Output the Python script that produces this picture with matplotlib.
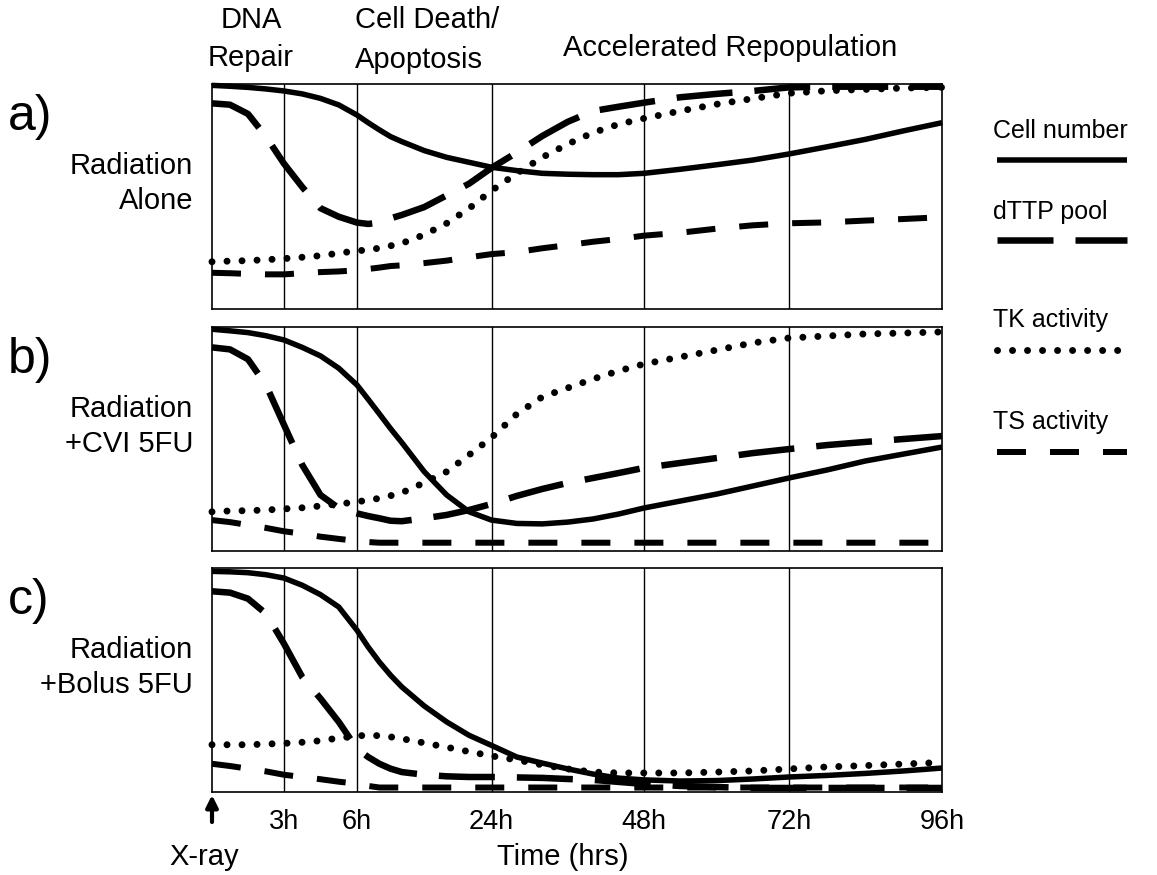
import numpy as np
import matplotlib
matplotlib.use("Agg")
import matplotlib.pyplot as plt
from matplotlib.lines import Line2D

plt.rcParams['font.family'] = ['Liberation Sans', 'DejaVu Sans']
plt.rcParams['lines.scale_dashes'] = False

W, H = 1157, 875

# ---------------- data ----------------
hours = [0, 0.75, 1.5, 2.25, 3, 3.75, 4.5, 5.25, 6, 7.5, 9, 10.5, 12, 15, 18, 21, 24,
         28, 32, 36, 40, 44, 48, 54, 60, 66, 72, 78, 84, 90, 96]

tick_hours = [0, 3, 6, 24, 48, 72, 96]
tick_labels = ['', '3h', '6h', '24h', '48h', '72h', '96h']
tick_axis_pos = [0, 72, 145, 279.5, 432, 577, 730]   # relative spacing of the time axis
grid_hours = [3, 6, 24, 48, 72]

# panel a) Radiation alone
a_cell = [99.4, 99.0, 98.5, 97.8, 96.9, 95.6, 93.6, 90.7, 86.2, 82.8, 79.6, 76.6, 74.4, 70.4, 67.4, 65.2, 63.0,
          61.5, 60.3, 59.9, 59.7, 59.7, 60.3, 62.1, 64.1, 66.2, 68.9, 72.1, 75.4, 79.2, 82.8]
a_dttp = [91.4, 90.8, 86.7, 76.6, 64.6, 54.2, 44.8, 41.0, 38.4, 37.8, 38.4, 40.3, 41.8, 45.3, 50.5, 55.7, 62.7,
          69.6, 76.9, 83.2, 88.0, 89.9, 91.7, 94.1, 95.6, 96.9, 98.5, 98.8, 98.8, 98.8, 98.8]
a_tk   = [21.0, 21.3, 21.5, 21.9, 22.4, 23.0, 23.7, 24.8, 25.9, 26.2, 27.1, 28.1, 29.2, 33.0, 38.1, 44.7, 52.6,
          60.3, 67.4, 73.3, 78.4, 82.1, 84.7, 88.0, 91.0, 93.5, 95.9, 97.0, 97.6, 98.2, 98.5]
a_ts   = [16.1, 15.9, 15.6, 15.4, 15.4, 15.9, 16.4, 16.7, 17.2, 17.8, 18.4, 19.1, 19.4, 20.4, 21.5, 23.0, 24.4,
          25.3, 27.0, 28.4, 29.9, 31.1, 32.6, 33.9, 35.7, 37.2, 38.1, 38.5, 39.3, 40.0, 40.8]

# panel b) Radiation + CVI 5FU
b_cell = [99.0, 98.3, 97.5, 96.1, 94.2, 90.9, 87.1, 81.6, 74.1, 67.7, 61.2, 54.6, 48.4, 35.4, 25.0, 17.5, 13.8,
          12.3, 12.1, 12.9, 14.3, 16.5, 19.2, 22.3, 25.4, 29.0, 32.6, 36.2, 40.2, 43.3, 46.4]
b_dttp = [90.9, 90.0, 85.6, 74.1, 56.3, 38.4, 25.0, 19.1, 16.8, 15.6, 14.6, 13.5, 13.3, 14.6, 16.1, 18.3, 21.0,
          24.6, 27.7, 30.4, 32.6, 34.8, 37.1, 39.3, 41.5, 43.7, 45.5, 47.3, 48.7, 50.0, 51.3]
b_tk   = [17.5, 17.9, 18.0, 18.3, 18.8, 19.3, 20.1, 21.0, 21.9, 22.8, 23.5, 24.7, 26.0, 30.5, 35.4, 42.9, 50.6,
          61.2, 68.8, 72.8, 76.8, 80.4, 83.5, 86.6, 89.7, 92.9, 95.1, 96.0, 96.9, 97.3, 97.8]
b_ts   = [13.8, 12.9, 11.6, 10.3, 8.8, 7.7, 6.4, 5.4, 4.5, 4.0, 3.7, 3.7, 3.7, 3.7, 3.7, 3.7, 3.7,
          3.7, 3.7, 3.7, 3.7, 3.7, 3.7, 3.7, 3.7, 3.7, 3.7, 3.7, 3.7, 3.7, 3.7]

# panel c) Radiation + Bolus 5FU
c_cell = [98.5, 98.3, 97.9, 97.0, 95.5, 92.3, 88.1, 82.6, 72.2, 64.7, 58.0, 52.1, 46.9, 38.4, 31.3, 25.3, 20.8,
          15.6, 12.9, 10.3, 8.0, 6.2, 5.4, 4.9, 5.1, 5.8, 6.7, 7.4, 8.3, 9.4, 10.7]
c_dttp = [89.6, 89.0, 86.3, 79.6, 66.2, 51.3, 41.7, 31.3, 19.3, 15.6, 12.6, 10.4, 8.9, 7.7, 7.0, 6.7, 6.7,
          6.5, 6.3, 5.8, 5.4, 4.5, 3.6, 2.7, 2.2, 1.8, 1.8, 1.8, 1.8, 1.8, 1.8]
c_tk   = [21.1, 21.1, 21.1, 21.4, 21.7, 22.2, 22.9, 24.1, 25.0, 25.4, 25.1, 24.6, 23.8, 21.9, 20.0, 18.0, 16.1,
          14.3, 12.1, 10.3, 8.9, 8.5, 8.5, 8.5, 8.9, 9.4, 10.3, 11.2, 11.8, 12.5, 13.2]
c_ts   = [12.6, 11.6, 10.4, 9.2, 7.7, 6.7, 5.7, 4.6, 3.7, 2.7, 2.0, 2.0, 2.0, 2.0, 2.0, 2.0, 2.0,
          2.0, 2.0, 2.0, 2.0, 2.0, 2.0, 2.0, 2.0, 2.0, 2.0, 2.0, 2.0, 2.0, 2.0]

panel_letters = ['a)', 'b)', 'c)']
panel_names = [['Radiation', 'Alone'], ['Radiation', '+CVI 5FU'], ['Radiation', '+Bolus 5FU']]
series_names = ['Cell number', 'dTTP pool', 'TK activity', 'TS activity']
phase_labels = ['DNA\nRepair', 'Cell Death/\nApoptosis', 'Accelerated Repopulation']

panels = [
    (a_cell, a_dttp, a_tk, a_ts),
    (b_cell, b_dttp, b_tk, b_ts),
    (c_cell, c_dttp, c_tk, c_ts),
]

# ---------------- styles ----------------
PX = 0.72  # points per pixel at dpi=100
styles = [
    dict(color='black', lw=5.5 * PX, linestyle='-', solid_capstyle='butt', solid_joinstyle='round'),
    dict(color='black', lw=6.5 * PX, linestyle=(0, (56 * PX, 22 * PX)), dash_capstyle='butt',
         dash_joinstyle='round'),
    dict(color='black', lw=7.0 * PX, linestyle=(0, (0.01, 15 * PX)), dash_capstyle='round'),
    dict(color='black', lw=6.0 * PX, linestyle=(0, (29 * PX, 24 * PX)), dash_capstyle='butt'),
]

def fwd(t):
    return np.interp(t, tick_hours, tick_axis_pos)

def inv(p):
    return np.interp(p, tick_axis_pos, tick_hours)

fig = plt.figure(figsize=(W / 100, H / 100), dpi=100)

def fx(x):
    return x / W

def fy(y):
    return 1 - y / H

boxes = [(84, 309), (327, 551), (568, 792)]
left, right = 212, 942
axes = []
for i, (top, bot) in enumerate(boxes):
    ax = fig.add_axes([fx(left), fy(bot), (right - left) / W, (bot - top) / H])
    ax.set_xscale('function', functions=(fwd, inv))
    ax.set_xlim(0, 96)
    ax.set_ylim(0, 100)
    for g in grid_hours:
        ax.axvline(g, color='black', lw=1.0, zorder=1)
    for vals, st in zip(panels[i], styles):
        ax.plot(hours, vals, zorder=3, clip_on=False, **st)
    for s in ax.spines.values():
        s.set_linewidth(1.2)
        s.set_zorder(4)
    ax.set_yticks([])
    ax.set_xticks(tick_hours)
    ax.tick_params(axis='x', length=0, labelsize=19.5, pad=12)
    if i < 2:
        ax.set_xticklabels([])
    else:
        ax.set_xticklabels(tick_labels)
    axes.append(ax)
    # panel letter and name
    fig.text(fx(8), fy(top + 33), panel_letters[i], fontsize=36, ha='left', va='center')
    fig.text(fx(193), fy(top + 82), panel_names[i][0], fontsize=21, ha='right', va='center')
    fig.text(fx(193), fy(top + 117), panel_names[i][1], fontsize=21, ha='right', va='center')

# phase labels at top
fig.text(fx(251), fy(39), phase_labels[0], fontsize=21, ha='center', va='center', linespacing=1.5)
fig.text(fx(355), fy(40), phase_labels[1], fontsize=21, ha='left', va='center', linespacing=1.5)
fig.text(fx(563), fy(48), phase_labels[2], fontsize=21, ha='left', va='center')

# x-axis annotations
fig.text(fx(563), fy(857), 'Time (hrs)', fontsize=21, ha='center', va='center')
fig.text(fx(204), fy(857), 'X-ray', fontsize=21, ha='center', va='center')
axes[2].annotate('', xy=(fx(212), fy(795)), xytext=(fx(212), fy(822)),
                 xycoords='figure fraction', textcoords='figure fraction',
                 arrowprops=dict(arrowstyle='-|>,head_length=0.7,head_width=0.35',
                                 color='black', lw=3.0, shrinkA=0, shrinkB=0))

# legend
leg_text_y = [131, 212, 320, 422]
leg_line_y = [160, 240, 350, 452]
for name, st, ty, ly in zip(series_names, styles, leg_text_y, leg_line_y):
    fig.text(fx(993), fy(ty), name, fontsize=18, ha='left', va='center')
    fig.add_artist(Line2D([fx(997), fx(1127)], [fy(ly), fy(ly)],
                          transform=fig.transFigure, **st))

fig.savefig('out.png', dpi=100)
